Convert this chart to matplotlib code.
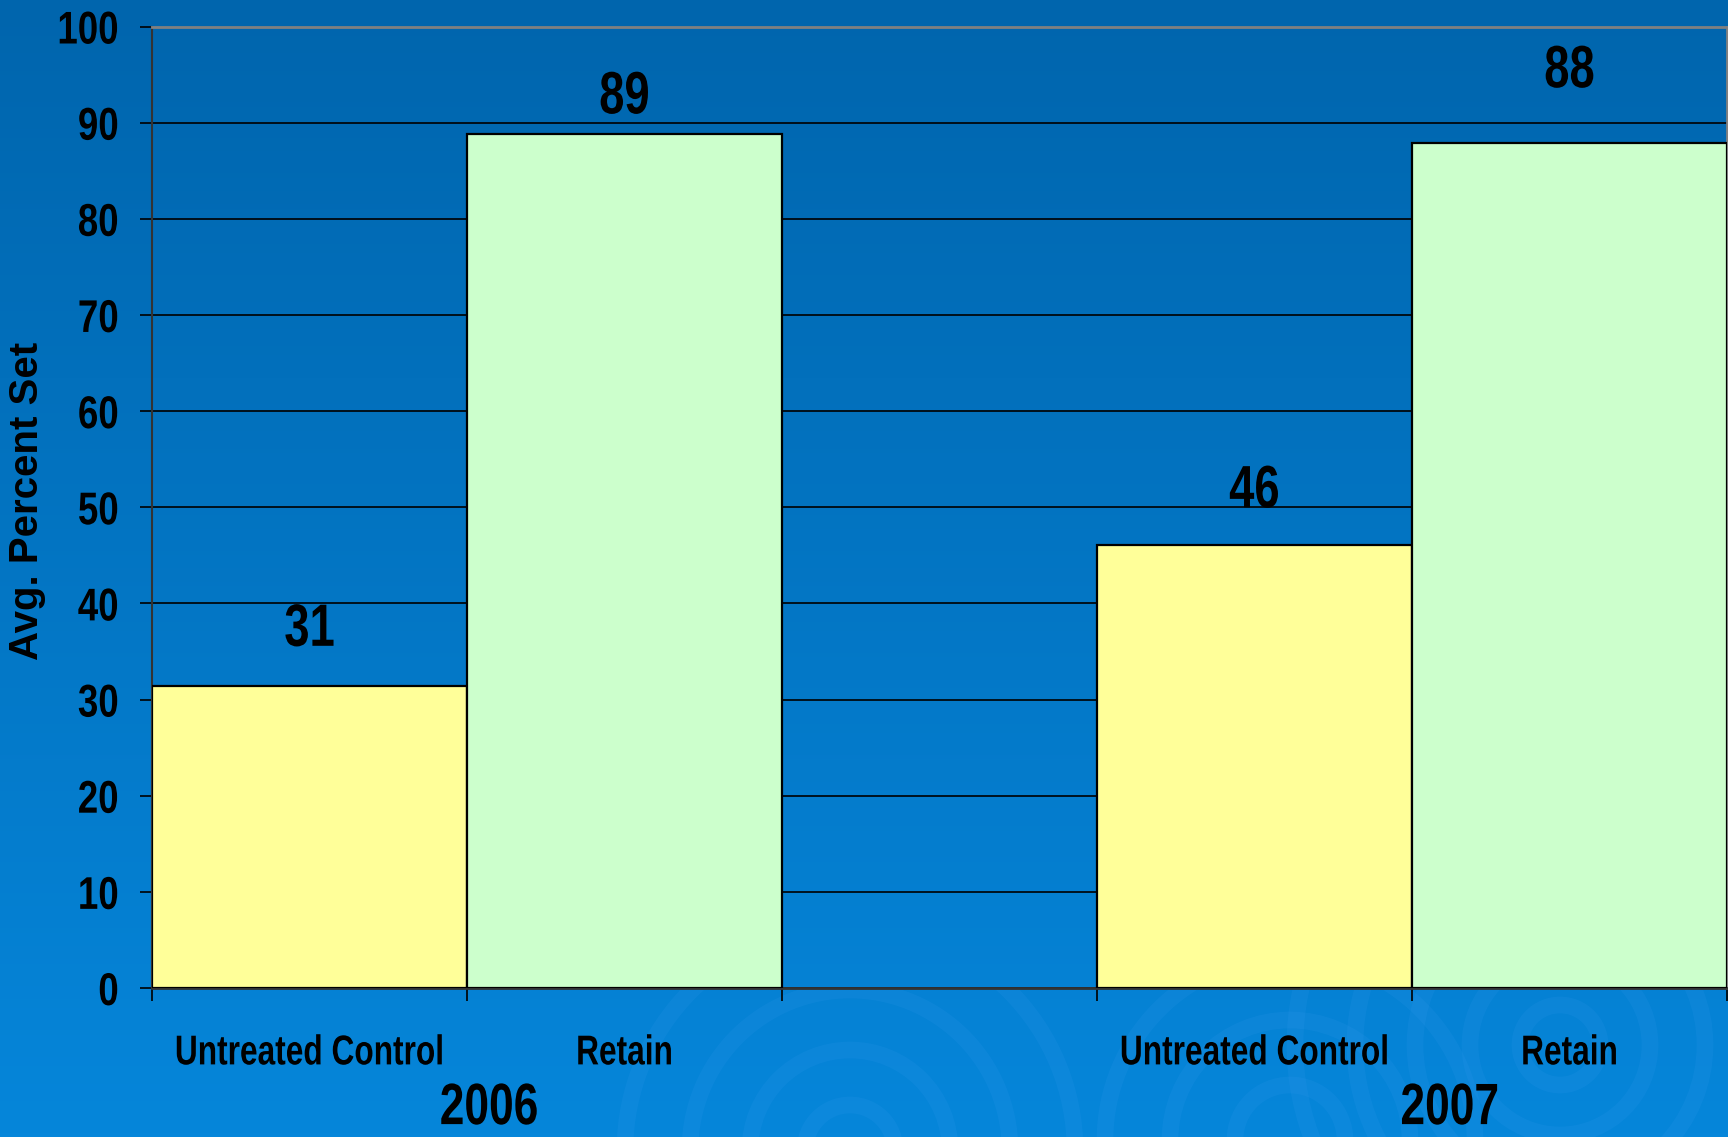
import matplotlib.pyplot as plt
import matplotlib.patches as mpatches
from matplotlib.patheffects import AbstractPathEffect
from matplotlib.transforms import Affine2D
import numpy as np

# Data
categories = ["Untreated Control", "Retain", "Untreated Control", "Retain"]
years = ["2006", "2007"]
values = [31.4, 88.8, 46.1, 87.9]
value_labels = ["31", "89", "46", "88"]

# Layout: 5 category slots, the middle one left empty between the years
slot_x = [0.5, 1.5, 3.5, 4.5]
year_x = [1.07, 4.12]
bar_colors = ["#FFFF99", "#CCFFCC", "#FFFF99", "#CCFFCC"]
label_offsets = [29, 15, 27, 40]  # points from bar top to label baseline


class Narrow(AbstractPathEffect):
    """Squeeze text horizontally, like Arial Narrow."""

    def __init__(self, sx=0.76, anchor=0.5):
        super().__init__()
        self.sx = sx
        self.anchor = anchor

    def draw_path(self, renderer, gc, tpath, affine, rgbFace=None):
        ext = tpath.get_extents()
        cx = ext.x0 + self.anchor * ext.width
        squeeze = Affine2D().translate(-cx, 0).scale(self.sx, 1).translate(cx, 0)
        renderer.draw_path(gc, tpath, squeeze + affine, rgbFace)


plt.rcParams["font.family"] = ["Liberation Sans", "DejaVu Sans"]
plt.rcParams["font.weight"] = "bold"

W, H = 1728, 1137
fig = plt.figure(figsize=(W / 100, H / 100), dpi=100)

# Background gradient with faint ripples
bg = fig.add_axes([0, 0, 1, 1], zorder=-10)
top = np.array([0x00, 0x65, 0xAD]) / 255
bot = np.array([0x06, 0x86, 0xDA]) / 255
t = np.linspace(0, 1, 256)[:, None]
grad = top[None, :] * (1 - t) + bot[None, :] * t
bg.imshow(grad[:, None, :], aspect="auto", extent=[0, W, H, 0])
bg.set_xlim(0, W)
bg.set_ylim(H, 0)
bg.axis("off")
clip = mpatches.Rectangle((0, 990), W, H - 990, transform=bg.transData, visible=False)
bg.add_patch(clip)
for cx, cy, radii in [(1560, 1045, [40, 90, 145, 205, 265]),
                      (850, 1150, [45, 100, 160, 225]),
                      (1290, 1140, [55, 120, 185])]:
    for r in radii:
        ring = mpatches.Circle((cx, cy), r, fill=False, lw=12,
                               ec=(0.25, 0.62, 0.95, 0.13))
        bg.add_patch(ring)
        ring.set_clip_path(clip)

ax = fig.add_axes([152 / W, 1 - 988 / H, (1727 - 152) / W, (988 - 26.5) / H])
ax.set_facecolor("none")

ax.bar(slot_x, values, width=1.0, color=bar_colors, edgecolor="black",
       linewidth=1.6, zorder=3)

for x, v, lab, off in zip(slot_x, values, value_labels, label_offsets):
    ax.annotate(lab, (x, v), xytext=(0, off), textcoords="offset points",
                ha="center", va="baseline", fontsize=43, fontweight="bold",
                color="black", zorder=4, path_effects=[Narrow(0.76)])

ax.set_xlim(0, 5)
ax.set_ylim(0, 100)
ax.set_yticks(range(0, 101, 10))
ax.yaxis.grid(True, color="black", linewidth=1.2, zorder=0)
ax.set_axisbelow(True)
ax.tick_params(axis="y", direction="out", length=8.6, width=1.2, pad=15,
               labelsize=33, colors="black")
for lbl in ax.get_yticklabels():
    lbl.set_path_effects([Narrow(0.8, anchor=1.0)])
ax.set_xticks(range(0, 6))
ax.set_xticklabels([])
ax.tick_params(axis="x", direction="out", length=9, width=1.2, colors="black")

ax.spines["top"].set_color("#808080")
ax.spines["top"].set_linewidth(2)
ax.spines["right"].set_color("#808080")
ax.spines["right"].set_linewidth(2)
ax.spines["left"].set_color("#333333")
ax.spines["left"].set_linewidth(1.5)
ax.spines["bottom"].set_color("#333333")
ax.spines["bottom"].set_linewidth(2)

trans = ax.get_xaxis_transform()
for x, cat in zip(slot_x, categories):
    ax.annotate(cat, (x, 0), xycoords=trans, xytext=(0, -55),
                textcoords="offset points", ha="center", va="baseline",
                fontsize=30, fontweight="bold", color="black",
                path_effects=[Narrow(0.76)])
for x, yr in zip(year_x, years):
    ax.annotate(yr, (x, 0), xycoords=trans, xytext=(0, -98),
                textcoords="offset points", ha="center", va="baseline",
                fontsize=42, fontweight="bold", color="black",
                path_effects=[Narrow(0.76)])

fig.text(27 / W, 1 - 501 / H, "Avg. Percent Set", rotation=90, ha="center",
         va="center", fontsize=29, fontweight="bold", color="black")

fig.savefig("out.png", dpi=100)
